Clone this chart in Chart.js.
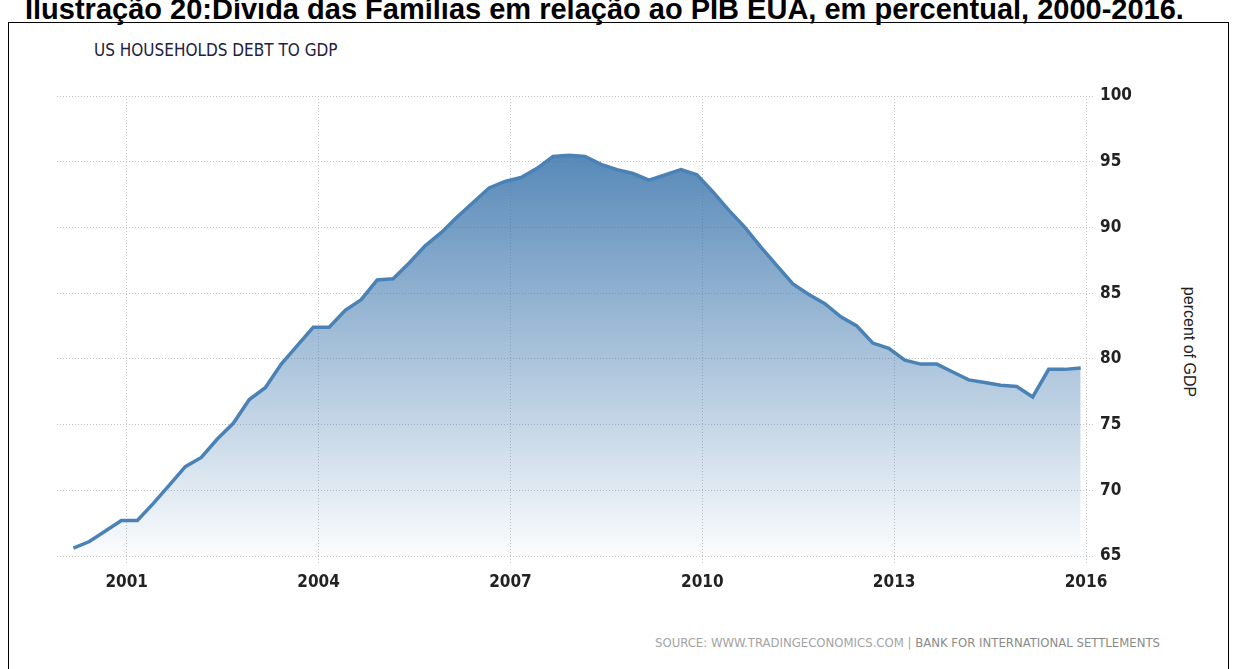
<!DOCTYPE html>
<html>
<head>
<meta charset="utf-8">
<script src="https://cdn.jsdelivr.net/npm/chart.js@4.4.1/dist/chart.umd.min.js"></script>
<style>
  html, body { margin: 0; padding: 0; background: #fff; width: 1235px; height: 669px; overflow: hidden; }
  #caption { position: absolute; left: 25px; top: -7px; line-height: 1; font: bold 29px "Liberation Sans", Arial, sans-serif; white-space: nowrap; color: #000; }
  #frame { position: absolute; left: 8px; top: 22px; width: 1219px; height: 700px; border: 1px solid #000; }
  #title { position: absolute; left: 94px; top: 40px; line-height: 1; font: 17px "Liberation Sans Narrow", "DejaVu Sans Condensed", sans-serif; color: #22223e; white-space: nowrap; }
  #unit { position: absolute; left: 1189px; top: 342px; transform: translate(-50%, -50%) rotate(90deg); font: 16px "Liberation Sans", Arial, sans-serif; color: #222; white-space: nowrap; }
  #source { position: absolute; left: 655px; top: 635px; line-height: 1; font: 13px "Liberation Sans Narrow", "DejaVu Sans Condensed", sans-serif; color: #a3a3a3; white-space: nowrap; }
  #source b { font-weight: normal; color: #8a8a8a; }
  #chart { position: absolute; left: 0; top: 0; }
</style>
</head>
<body>
<div id="caption">Ilustração 20:Dívida das Famílias em relação ao PIB EUA, em percentual, 2000-2016.</div>
<div id="frame"></div>
<div id="title">US HOUSEHOLDS DEBT TO GDP</div>
<div id="unit">percent of GDP</div>
<div id="source">SOURCE: WWW.TRADINGECONOMICS.COM | <b>BANK FOR INTERNATIONAL SETTLEMENTS</b></div>
<canvas id="chart" width="1235" height="669"></canvas>
<script>
// quarterly observations, 2000 Q1 .. 2015 Q4
const quarters = [
  '2000Q1', '2000Q2', '2000Q3', '2000Q4',
  '2001Q1', '2001Q2', '2001Q3', '2001Q4',
  '2002Q1', '2002Q2', '2002Q3', '2002Q4',
  '2003Q1', '2003Q2', '2003Q3', '2003Q4',
  '2004Q1', '2004Q2', '2004Q3', '2004Q4',
  '2005Q1', '2005Q2', '2005Q3', '2005Q4',
  '2006Q1', '2006Q2', '2006Q3', '2006Q4',
  '2007Q1', '2007Q2', '2007Q3', '2007Q4',
  '2008Q1', '2008Q2', '2008Q3', '2008Q4',
  '2009Q1', '2009Q2', '2009Q3', '2009Q4',
  '2010Q1', '2010Q2', '2010Q3', '2010Q4',
  '2011Q1', '2011Q2', '2011Q3', '2011Q4',
  '2012Q1', '2012Q2', '2012Q3', '2012Q4',
  '2013Q1', '2013Q2', '2013Q3', '2013Q4',
  '2014Q1', '2014Q2', '2014Q3', '2014Q4',
  '2015Q1', '2015Q2', '2015Q3', '2015Q4'
];

const debtToGdp = [
  65.6, 66.1, 66.9, 67.7,
  67.7, 69.0, 70.4, 71.8,
  72.5, 73.9, 75.1, 76.9,
  77.8, 79.6, 81.0, 82.4,
  82.4, 83.7, 84.5, 86.0,
  86.1, 87.3, 88.6, 89.6,
  90.8, 91.9, 93.0, 93.5,
  93.8, 94.5, 95.4, 95.5,
  95.4, 94.8, 94.4, 94.1,
  93.6, 94.0, 94.4, 94.0,
  92.7, 91.3, 90.0, 88.5,
  87.1, 85.7, 84.9, 84.2,
  83.2, 82.5, 81.2, 80.8,
  79.9, 79.6, 79.6, 79.0,
  78.4, 78.2, 78.0, 77.9,
  77.1, 79.2, 79.2, 79.3
];

const xTickYears = [2001, 2004, 2007, 2010, 2013, 2016];
const yTickValues = [65, 70, 75, 80, 85, 90, 95, 100];

// tradingeconomics plots a quarter at the start of its last month
function quarterToYear(q) {
  const year = +q.slice(0, 4);
  const n = +q.slice(5);
  return year + (n - 1) / 4 + 2 / 12;
}

const tickFont = { family: '"Liberation Sans Narrow", "DejaVu Sans Condensed", sans-serif', size: 17, weight: 'bold' };
const gridColor = '#c4c4c4';

new Chart(document.getElementById('chart'), {
  type: 'line',
  data: {
    datasets: [{
      data: quarters.map((q, i) => ({ x: quarterToYear(q), y: debtToGdp[i] })),
      borderColor: '#4a82b6',
      borderWidth: 3.5,
      pointRadius: 0,
      tension: 0,
      fill: 'start',
      backgroundColor: (ctx) => {
        const area = ctx.chart.chartArea;
        if (!area) return 'rgba(70,127,178,0.5)';
        const g = ctx.chart.ctx.createLinearGradient(0, area.top, 0, area.bottom);
        g.addColorStop(0, 'rgba(63,120,174,1)');
        g.addColorStop(1, 'rgba(63,120,174,0.02)');
        return g;
      }
    }]
  },
  options: {
    responsive: false,
    animation: false,
    layout: { padding: { left: 57, top: 96, right: 89, bottom: 68 } },
    plugins: { legend: { display: false }, tooltip: { enabled: false } },
    scales: {
      x: {
        type: 'linear',
        min: 1999.91,
        max: 2016,
        afterFit: (s) => { s.height = 45; },
        afterBuildTicks: (s) => { s.ticks = xTickYears.map(v => ({ value: v })); },
        ticks: { color: '#222', font: tickFont, padding: 9, maxRotation: 0, callback: (v) => String(v) },
        grid: { color: gridColor, tickColor: gridColor, tickLength: 7, tickBorderDash: [1, 2] },
        border: { display: false, dash: [1, 2] }
      },
      y: {
        position: 'right',
        min: 65,
        max: 100,
        afterFit: (s) => { s.width = 60; },
        afterBuildTicks: (s) => { s.ticks = yTickValues.map(v => ({ value: v })); },
        ticks: { color: '#222', font: tickFont, padding: 7, callback: (v) => String(v) },
        grid: { color: gridColor, tickColor: gridColor, tickLength: 7, tickBorderDash: [1, 2] },
        border: { display: false, dash: [1, 2] }
      }
    }
  }
});
</script>
</body>
</html>
